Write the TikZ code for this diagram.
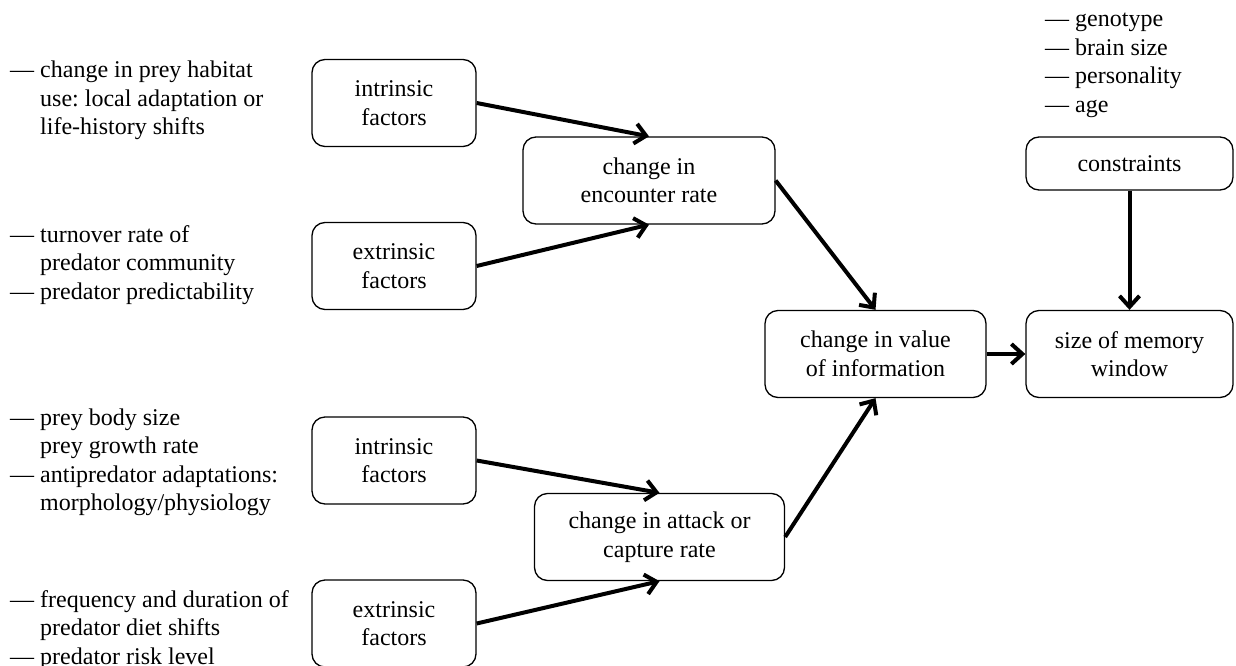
\documentclass[tikz,border=0pt]{standalone}
\usepackage{fontspec}
\setmainfont{Liberation Serif}
\usetikzlibrary{arrows.meta}
\frenchspacing
\tikzset{
  box/.style={draw, line width=1.3pt, rounded corners=13pt, align=center, inner sep=0pt, minimum height=87pt, font=\fontsize{24}{28.5}\selectfont},
  arr/.style={line width=4pt, -{Straight Barb[length=11pt,width=20pt]}},
  note/.style={anchor=base west, inner sep=0pt, font=\fontsize{24}{28.5}\selectfont}
}
\newcommand{\notetab}[1]{\begin{tabular}[t]{@{}l@{\hspace{6pt}}l@{}}#1\end{tabular}}
\begin{document}
\begin{tikzpicture}[x=1pt,y=-1pt]
\useasboundingbox (0,0) rectangle (1236,666);
% boxes
\node[box, minimum width=164pt] (ifa) at (394,103) {intrinsic\\factors};
\node[box, minimum width=164pt] (efa) at (394,266) {extrinsic\\factors};
\node[box, minimum width=252pt] (enc) at (649,180.5) {change in\\encounter rate};
\node[box, minimum width=164pt] (ifb) at (394,460.5) {intrinsic\\factors};
\node[box, minimum width=164pt] (efb) at (394,623.5) {extrinsic\\factors};
\node[box, minimum width=250pt] (att) at (659.5,537) {change in attack or\\capture rate};
\node[box, minimum width=221pt] (val) at (875.5,354) {change in value\\of information};
\node[box, minimum width=207pt] (mem) at (1129.5,354) {size of memory\\window};
\node[box, minimum width=207pt, minimum height=53pt] (con) at (1129.5,163.5) {constraints};
% notes
\node[note] (n1) at (10,78) {\notetab{\textemdash & change in prey habitat\\ & use: local adaptation or\\ & life-history shifts}};
\node[note] (n2) at (10,242) {\notetab{\textemdash & turnover rate of\\ & predator community\\ \textemdash & predator predictability}};
\node[note] (n3) at (10,425) {\notetab{\textemdash & prey body size\\ & prey growth rate\\ \textemdash & antipredator adaptations:\\ & morphology/physiology}};
\node[note] (n4) at (10,607) {\notetab{\textemdash & frequency and duration of\\ & predator diet shifts\\ \textemdash & predator risk level}};
\node[note] (n5) at (1045,27) {\notetab{\textemdash & genotype\\ \textemdash & brain size\\ \textemdash & personality\\ \textemdash & age}};
% arrows
\draw[arr] (ifa.east) -- (enc.north);
\draw[arr] (efa.east) -- (enc.south);
\draw[arr] (ifb.east) -- (att.north);
\draw[arr] (efb.east) -- (att.south);
\draw[arr] (enc.east) -- (val.north);
\draw[arr] (att.east) -- (val.south);
\draw[arr] (val.east) -- (mem.west);
\draw[arr] (con.south) -- (mem.north);
\end{tikzpicture}
\end{document}
